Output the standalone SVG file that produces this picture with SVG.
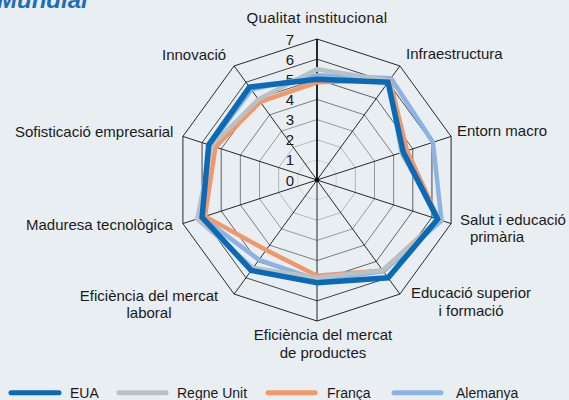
<svg xmlns="http://www.w3.org/2000/svg" width="569" height="400" viewBox="0 0 569 400">
<style>
text{font-family:"Liberation Sans",Arial,sans-serif;fill:#1a1a1a;font-size:15px}
.lbl{text-anchor:middle}
.tick{font-size:15px;text-anchor:middle}
.legt{font-size:14px}
.ring{fill:none;stroke:#111;stroke-width:0.9;vector-effect:non-scaling-stroke}
.spoke{stroke:#111;stroke-width:0.9}
.s{fill:none;stroke-linejoin:miter;stroke-width:4.5}
.eua{stroke:#0a6ab6;stroke-width:5.5}
.ru{stroke:#b8c2c6}
.fr{stroke:#f0986a}
.al{stroke:#8db3e2}
.leg{stroke-width:5;stroke-linecap:round}
</style>
<rect width="569" height="400" fill="#e9eef3"/>
<text x="-3" y="8" style="font-size:24px;font-weight:bold;font-style:italic;fill:#1a6fb8">Mundial</text>
<g id="grid">
<defs><polygon id="dec" points="0,-141 82.88,-114.07 134.10,-43.57 134.10,43.57 82.88,114.07 0,141 -82.88,114.07 -134.10,43.57 -134.10,-43.57 -82.88,-114.07"/></defs>
<use href="#dec" class="ring" transform="translate(317,180) scale(0.142857)"/>
<use href="#dec" class="ring" transform="translate(317,180) scale(0.285714)"/>
<use href="#dec" class="ring" transform="translate(317,180) scale(0.428571)"/>
<use href="#dec" class="ring" transform="translate(317,180) scale(0.571429)"/>
<use href="#dec" class="ring" transform="translate(317,180) scale(0.714286)"/>
<use href="#dec" class="ring" transform="translate(317,180) scale(0.857143)"/>
<use href="#dec" class="ring" transform="translate(317,180)"/>
<g transform="translate(317,180)" class="spoke">
<line x1="0" y1="0" x2="0" y2="-141" stroke-width="1.8"/>
<line x1="0" y1="0" x2="82.88" y2="-114.07"/>
<line x1="0" y1="0" x2="134.10" y2="-43.57"/>
<line x1="0" y1="0" x2="134.10" y2="43.57"/>
<line x1="0" y1="0" x2="82.88" y2="114.07"/>
<line x1="0" y1="0" x2="0" y2="141"/>
<line x1="0" y1="0" x2="-82.88" y2="114.07"/>
<line x1="0" y1="0" x2="-134.10" y2="43.57"/>
<line x1="0" y1="0" x2="-134.10" y2="-43.57"/>
<line x1="0" y1="0" x2="-82.88" y2="-114.07"/>
<circle cx="0" cy="0" r="2" fill="#111"/>
</g>
<text class="tick" x="290" y="185.5">0</text>
<text class="tick" x="290" y="165.4">1</text>
<text class="tick" x="290" y="145.2">2</text>
<text class="tick" x="290" y="125.1">3</text>
<text class="tick" x="290" y="104.9">4</text>
<text class="tick" x="290" y="84.8">5</text>
<text class="tick" x="290" y="64.6">6</text>
<text class="tick" x="290" y="44.5">7</text>
</g>
<g id="series">
<polygon class="s al" points="317,75.26 391.00,78.15 432.91,142.34 441.53,220.46 383.30,271.26 317,279.71 258.98,259.85 202.05,217.35 209.72,145.14 251.29,89.56"/>
<polygon class="s fr" points="317,82.31 389.82,79.78 407.04,150.75 438.65,219.52 382.71,270.44 317,275.68 266.09,250.07 204.92,216.41 215.46,147.01 260.17,101.78"/>
<polygon class="s ru" points="317,69.21 389.22,80.60 401.30,152.61 439.61,219.84 382.71,270.44 317,277.69 253.06,268.00 197.27,218.90 211.63,145.77 258.39,99.33"/>
<polygon class="s eua" points="317,79.29 388.04,82.22 403.21,151.99 437.69,219.21 388.04,277.78 317,282.73 251.29,270.44 202.05,217.35 208.76,144.83 249.51,87.11"/>
</g>
<g id="n-qualitat"><text class="lbl" x="317" y="23" style="letter-spacing:0.3px">Qualitat institucional</text></g>
<g id="n-infra"><text x="406" y="59">Infraestructura</text></g>
<g id="n-entorn"><text x="457" y="136">Entorn macro</text></g>
<g id="n-salut"><text class="lbl" x="513" y="225">Salut i educació</text><text class="lbl" x="497" y="242">primària</text></g>
<g id="n-educacio"><text class="lbl" x="471" y="298">Educació superior</text><text class="lbl" x="471" y="316">i formació</text></g>
<g id="n-efprod"><text class="lbl" x="323" y="340">Eficiència del mercat</text><text class="lbl" x="323" y="358">de productes</text></g>
<g id="n-eflab"><text class="lbl" x="149" y="301">Eficiència del mercat</text><text class="lbl" x="149" y="318">laboral</text></g>
<g id="n-madur"><text x="26" y="230">Maduresa tecnològica</text></g>
<g id="n-sofist"><text x="15" y="137">Sofisticació empresarial</text></g>
<g id="n-innov"><text x="162" y="60">Innovació</text></g>
<g id="legend">
<line class="leg" x1="11" y1="392.7" x2="59" y2="392.7" stroke="#0a6ab6"/>
<text class="legt" x="70" y="397.5">EUA</text>
<line class="leg" x1="119" y1="392.7" x2="166" y2="392.7" stroke="#b8c2c6"/>
<text class="legt" x="177" y="397.5">Regne Unit</text>
<line class="leg" x1="268" y1="392.7" x2="315" y2="392.7" stroke="#f0986a"/>
<text class="legt" x="327" y="397.5">França</text>
<line class="leg" x1="394" y1="392.7" x2="441" y2="392.7" stroke="#8db3e2"/>
<text class="legt" x="456" y="397.5">Alemanya</text>
</g>
</svg>
